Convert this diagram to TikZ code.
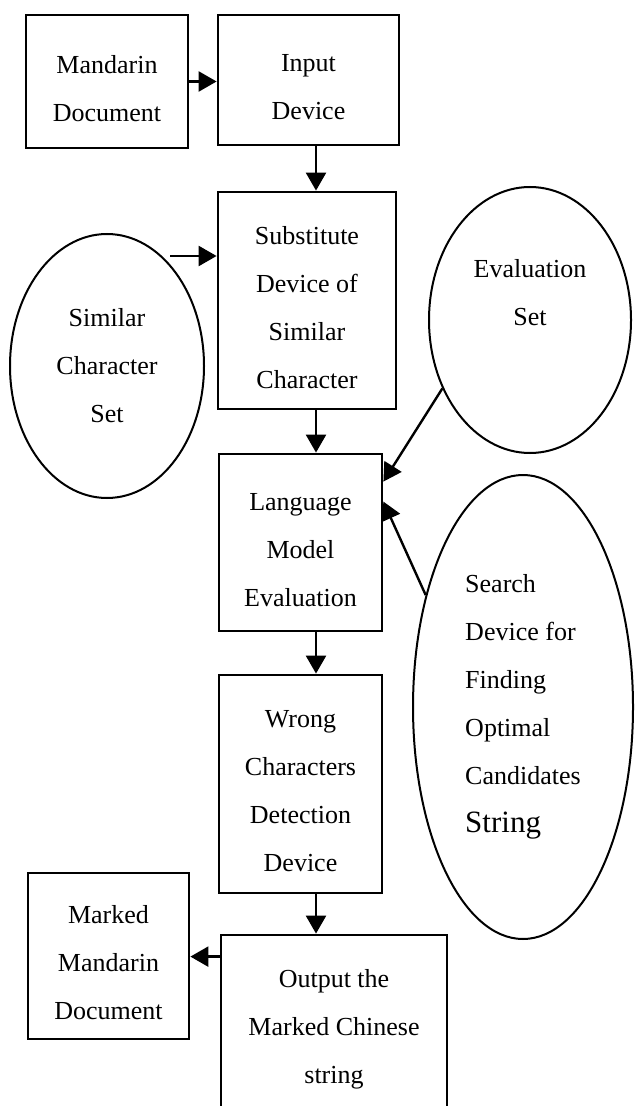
\documentclass[tikz,border=0pt]{standalone}
\usepackage{fontspec}
\setmainfont{Liberation Serif}
\usetikzlibrary{arrows.meta,shapes.geometric,calc}
% tall first-line strut: pushes box captions slightly below the box centre
\newcommand\boxstrut{\rule{0pt}{16pt}}
\begin{document}
\begin{tikzpicture}[x=0.5pt,y=-0.5pt,
  every node/.style={font=\fontsize{13}{24}\selectfont},
  box/.style={draw,line width=1.4pt,rectangle,inner sep=0pt,align=center},
  oval/.style={draw,line width=1pt,ellipse,inner sep=0pt,align=center},
  arr/.style={line width=1.2pt,-{Triangle[length=9pt,width=10pt]}}]

\useasboundingbox (0,0) rectangle (634,1106);
\clip (0,0) rectangle (634,1106);

% processing blocks
\node[box,minimum width=81pt,minimum height=66.5pt] (mdoc) at (107,81.5) {\boxstrut Mandarin\\Document};
\node[box,minimum width=90.5pt,minimum height=65pt] (input) at (308.5,80) {\boxstrut Input\\Device};
\node[box,minimum width=89pt,minimum height=108.5pt] (subst) at (307,300.5) {\boxstrut Substitute\\Device of\\Similar\\Character};
\node[box,minimum width=81.5pt,minimum height=88.5pt] (lme) at (300.5,542.5) {\boxstrut Language\\Model\\Evaluation};
\node[box,minimum width=81.5pt,minimum height=109pt] (wcd) at (300.5,784) {\boxstrut Wrong\\Characters\\Detection\\Device};
\node[box,minimum width=113pt,minimum height=87pt] (out) at (334,1022) {\boxstrut Output the\\Marked Chinese\\string};
\node[box,minimum width=80.5pt,minimum height=83pt] (marked) at (108.5,956) {\boxstrut Marked\\Mandarin\\Document};

% data sets and search device
\node[oval,minimum width=97pt,minimum height=132pt] (simset) at (107,366) {Similar\\Character\\Set};
\node[oval,minimum width=101pt,minimum height=133pt,
  label={[align=center,yshift=13.5pt]center:Evaluation\\Set}] (evalset) at (530,320) {};
\node[oval,minimum width=110pt,minimum height=232pt,align=left] (search) at (523,707)
  {Search\\Device for\\Finding\\Optimal\\Candidates\\{\fontsize{15.5}{24}\selectfont String}};

% connectors
\coordinate (spine) at (316,0);
\coordinate (simtail) at (170,256);
\coordinate (evalhit) at ($(lme.north east)+(0,29)$);
\coordinate (searchhit) at ($(lme.north east)+(0,49)$);
\coordinate (outleft) at ($(out.north west)+(0,23)$);

\draw[arr] (mdoc.east) -- (mdoc.east -| input.west);
\draw[arr] (input.south -| spine) -- (subst.north -| spine);
\draw[arr] (simtail) -- (simtail -| subst.west);
\draw[arr] (subst.south -| spine) -- (lme.north -| spine);
\draw[arr] (evalset.218) -- (evalhit);
\draw[arr] (search.131) -- (searchhit);
\draw[arr] (lme.south -| spine) -- (wcd.north -| spine);
\draw[arr] (wcd.south -| spine) -- (out.north -| spine);
\draw[arr] (outleft) -- (outleft -| marked.east);
\end{tikzpicture}
\end{document}
